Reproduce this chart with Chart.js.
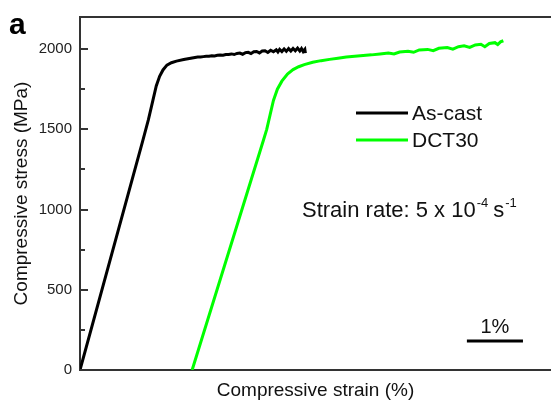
<!DOCTYPE html>
<html>
<head>
<meta charset="utf-8">
<script src="https://cdn.jsdelivr.net/npm/chart.js@4"></script>
<style>
  body { margin: 0; background: #fff; }
  canvas { display: block; }
</style>
</head>
<body>
<canvas id="stressChart" width="551" height="400"></canvas>
<script>
// Kurvendaten (Dehnung in %, Spannung in MPa)
const asCastStrain = [0, 1.12, 1.22, 1.30, 1.36, 1.42, 1.48, 1.55, 1.63, 1.72, 1.85, 2.00,
    2.05, 2.10, 2.15, 2.20, 2.25, 2.30, 2.35, 2.40, 2.45, 2.50, 2.55, 2.60, 2.65, 2.70,
    2.75, 2.80, 2.85, 2.90, 2.95, 3.00, 3.05, 3.10, 3.15, 3.20, 3.25, 3.30, 3.35, 3.40,
    3.45, 3.50, 3.53, 3.56, 3.60, 3.64, 3.68, 3.72, 3.76, 3.80, 3.84, 3.88, 3.92, 3.95,
    3.98, 4.01, 4.02];
const asCastStress = [0, 1430, 1560, 1680, 1770, 1830, 1870, 1900, 1915, 1925, 1935, 1945,
    1948, 1950, 1951, 1953, 1955, 1956, 1958, 1957, 1961, 1963, 1962, 1966, 1967, 1970,
    1966, 1973, 1975, 1968, 1978, 1980, 1972, 1983, 1985, 1976, 1988, 1990, 1979, 1993,
    1983, 1996, 1982, 1998, 1985, 2001, 1986, 2003, 1988, 2004, 1990, 2006, 1988, 2003,
    1985, 1998, 1975];

const dct30Strain = [2.00, 3.27, 3.33, 3.39, 3.45, 3.52, 3.60, 3.70, 3.80, 3.90, 4.00, 4.15,
    4.30, 4.45, 4.60, 4.75, 4.90, 5.05, 5.20, 5.35, 5.50, 5.60, 5.70, 5.85, 5.95, 6.05,
    6.20, 6.30, 6.40, 6.55, 6.65, 6.75, 6.85, 6.95, 7.05, 7.15, 7.22, 7.30, 7.40, 7.45,
    7.50, 7.55];
const dct30Stress = [0, 1430, 1500, 1590, 1680, 1750, 1800, 1845, 1872, 1890, 1903, 1918,
    1928, 1936, 1943, 1950, 1955, 1960, 1964, 1970, 1975, 1970, 1982, 1987, 1980, 1995,
    1998, 1990, 2005, 2010, 2000, 2015, 2020, 2010, 2026, 2030, 2015, 2035, 2040, 2028,
    2045, 2052];

const seriesLabels = ['As-cast', 'DCT30'];
const yTickLabels = [0, 500, 1000, 1500, 2000];
const yTickValues = [0, 250, 500, 750, 1000, 1250, 1500, 1750, 2000];
const strainRateText = 'Strain rate: 5 x 10';

const FONT = 'Liberation Sans, Arial, Helvetica, sans-serif';

function toPoints(xs, ys) {
    return xs.map((x, i) => ({ x: x, y: ys[i] }));
}

// Ticks nach innen, Legende, Texte, Massstab
const decorPlugin = {
    id: 'decor',
    afterDraw(chart) {
        const ctx = chart.ctx;
        const area = chart.chartArea;
        const xs = chart.scales.x;
        const ys = chart.scales.y;

        ctx.save();
        ctx.strokeStyle = '#333';
        ctx.lineWidth = 2;
        ys.ticks.forEach(t => {
            const len = yTickLabels.includes(t.value) ? 8 : 5;
            const py = Math.round(ys.getPixelForValue(t.value));
            ctx.beginPath();
            ctx.moveTo(area.left, py);
            ctx.lineTo(area.left + len, py);
            ctx.stroke();
        });

        // Legende
        ctx.fillStyle = '#111';
        ctx.font = '21px ' + FONT;
        ctx.textBaseline = 'middle';
        chart.data.datasets.forEach((ds, i) => {
            const ly = 113 + i * 27;
            ctx.strokeStyle = ds.borderColor;
            ctx.lineWidth = 3;
            ctx.beginPath();
            ctx.moveTo(356, ly);
            ctx.lineTo(408, ly);
            ctx.stroke();
            ctx.fillText(ds.label, 412, ly + 1);
        });

        // Dehnrate
        ctx.textBaseline = 'alphabetic';
        ctx.font = '22px ' + FONT;
        ctx.fillText(strainRateText, 302, 217);
        let px = 302 + ctx.measureText(strainRateText).width;
        ctx.font = '13px ' + FONT;
        ctx.fillText('-4', px + 1, 207);
        px += 1 + ctx.measureText('-4').width + 5;
        ctx.font = '22px ' + FONT;
        ctx.fillText('s', px, 217);
        px += ctx.measureText('s').width;
        ctx.font = '13px ' + FONT;
        ctx.fillText('-1', px + 1, 207);

        // Massstab 1%
        const x0 = xs.getPixelForValue(6.9);
        const x1 = xs.getPixelForValue(7.9);
        const by = ys.getPixelForValue(180);
        ctx.strokeStyle = '#000';
        ctx.lineWidth = 3;
        ctx.beginPath();
        ctx.moveTo(x0, by);
        ctx.lineTo(x1, by);
        ctx.stroke();
        ctx.font = '20px ' + FONT;
        ctx.textAlign = 'center';
        ctx.fillText('1%', (x0 + x1) / 2, by - 8);

        // Panel-Buchstabe
        ctx.textAlign = 'left';
        ctx.font = 'bold 30px ' + FONT;
        ctx.fillStyle = '#000';
        ctx.fillText('a', 9, 34);
        ctx.restore();
    }
};

const ctx = document.getElementById('stressChart').getContext('2d');
const stressChart = new Chart(ctx, {
    type: 'line',
    data: {
        datasets: [{
            label: seriesLabels[0],
            data: toPoints(asCastStrain, asCastStress),
            borderColor: '#000000',
            borderWidth: 3,
            pointRadius: 0,
            tension: 0,
        }, {
            label: seriesLabels[1],
            data: toPoints(dct30Strain, dct30Stress),
            borderColor: '#00ff00',
            borderWidth: 3,
            pointRadius: 0,
            tension: 0,
        }],
    },
    options: {
        responsive: false,
        animation: false,
        devicePixelRatio: 1,
        layout: { padding: 0 },
        plugins: {
            legend: { display: false },
            tooltip: { enabled: false },
        },
        scales: {
            x: {
                type: 'linear',
                min: 0,
                max: 8.4,
                grid: { display: false, drawTicks: false },
                border: { display: true, color: '#333', width: 2 },
                ticks: { display: false },
                title: {
                    display: true,
                    text: 'Compressive strain (%)',
                    color: '#111',
                    font: { family: FONT, size: 19, lineHeight: 1 },
                    padding: { top: 0, bottom: 0 },
                },
                afterFit: s => { s.height = 30; },
            },
            x2: {
                type: 'linear',
                position: 'top',
                min: 0,
                max: 8.4,
                grid: { display: false, drawTicks: false },
                border: { display: true, color: '#333', width: 2 },
                ticks: { display: false },
                afterFit: s => { s.height = 16; },
            },
            y: {
                min: 0,
                max: 2200,
                grid: { display: false, drawTicks: false },
                border: { display: true, color: '#333', width: 2 },
                afterBuildTicks: s => { s.ticks = yTickValues.map(v => ({ value: v })); },
                ticks: {
                    padding: 8,
                    autoSkip: false,
                    color: '#222',
                    font: { family: FONT, size: 15 },
                    callback: v => yTickLabels.includes(v) ? String(v) : '',
                },
                title: {
                    display: true,
                    text: 'Compressive stress (MPa)',
                    color: '#111',
                    font: { family: FONT, size: 19, lineHeight: 1 },
                    padding: { top: 12, bottom: 0 },
                },
                afterFit: s => { s.width = 80; },
            },
        },
    },
    plugins: [decorPlugin],
});
</script>
</body>
</html>
